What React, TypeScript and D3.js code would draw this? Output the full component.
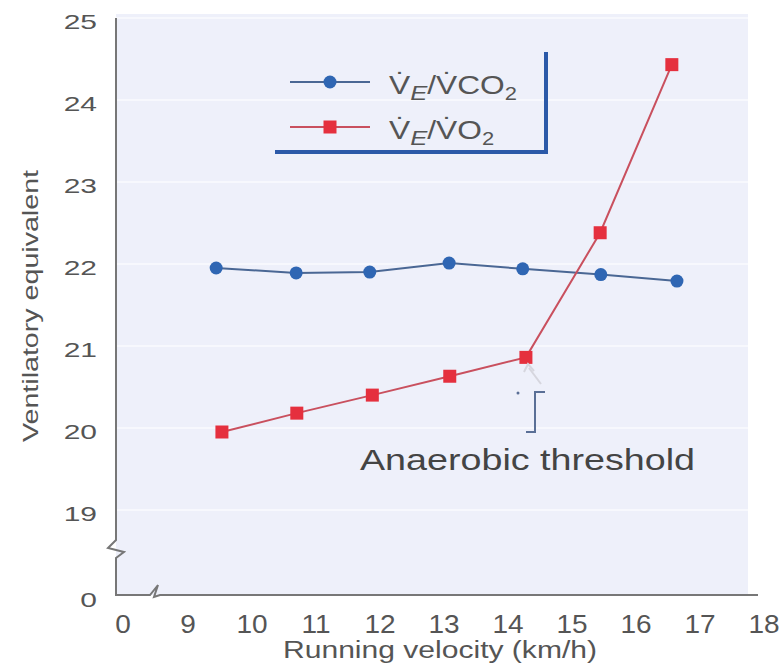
import React from "react";
import * as d3 from "d3";

const velocity = [9.44, 10.69, 11.84, 13.08, 14.23, 15.45, 16.64];
const velocityRed = [9.53, 10.7, 11.88, 13.09, 14.28, 15.44, 16.56];
const veVco2 = [22.0, 21.94, 21.95, 22.06, 21.99, 21.92, 21.84];
const veVo2 = [20.0, 20.23, 20.45, 20.68, 20.91, 22.43, 24.48];
const xTicks = [0, 9, 10, 11, 12, 13, 14, 15, 16, 17, 18];
const yTicks = [0, 19, 20, 21, 22, 23, 24, 25];

const W = 779;
const H = 670;

export default function App() {
  const x = d3.scaleLinear().domain([0, 9, 18]).range([123, 188, 764]);
  const y = d3.scaleLinear().domain([0, 19, 25]).range([600, 514, 22]);
  const axisX = 116;
  const axisY = 595;
  const textColor = "#555";
  const font = "'Liberation Sans', Arial, sans-serif";

  const lineBlue = d3
    .line<number>()
    .x((_, i) => x(velocity[i]))
    .y((d) => y(d));
  const lineRed = d3
    .line<number>()
    .x((_, i) => x(velocityRed[i]))
    .y((d) => y(d));

  const blueLine = "#4a6794";
  const blueMark = "#2f66b3";
  const redLine = "#c9505e";
  const redMark = "#e5303e";

  const legendLabel = (sub: string) => (
    <>
      {"V\u0307"}
      <tspan fontStyle="italic" fontSize={21} dy={6}>E</tspan>
      <tspan dy={-6}>{"/V\u0307" + sub}</tspan>
      <tspan fontSize={18} dy={6}>2</tspan>
    </>
  );

  return (
    <svg width={W} height={H} style={{ display: "block", position: "absolute", left: 0, top: 0 }} fontFamily={font}>
      <rect x={0} y={0} width={W} height={H} fill="#ffffff" />
      {/* plot background */}
      <rect x={axisX} y={14} width={632} height={axisY - 14} fill="#eef0fa" />
      {yTicks.slice(1).map((t) => (
        <line key={"g" + t} x1={axisX} x2={748} y1={y(t) - 4} y2={y(t) - 4} stroke="#f7f8fd" strokeWidth={2} />
      ))}

      {/* axes with breaks */}
      <path
        d={`M${axisX},18 V540 l-8,8 l16,4 l-8,6 V${axisY} H150 l8,-10 l-4,12 l6,-2 H758`}
        fill="none"
        stroke="#777"
        strokeWidth={2}
      />

      {/* y tick labels */}
      {yTicks.map((t) => (
        <text
          key={"y" + t}
          transform={`translate(97,${y(t)}) scale(1.5,1)`}
          dy="0.35em"
          textAnchor="end"
          fontSize={20}
          fill={textColor}
        >
          {t}
        </text>
      ))}
      {/* x tick labels */}
      {xTicks.map((t) => (
        <text
          key={"x" + t}
          transform={`translate(${x(t)},624) scale(1.12,1)`}
          dy="0.35em"
          textAnchor="middle"
          fontSize={25}
          fill={textColor}
        >
          {t}
        </text>
      ))}

      <text
        transform={`translate(38,306) rotate(-90)`}
        textAnchor="middle"
        fontSize={22}
        textLength={272}
        lengthAdjust="spacingAndGlyphs"
        fill={textColor}
      >
        Ventilatory equivalent
      </text>
      <text
        x={440}
        y={658}
        textAnchor="middle"
        fontSize={23}
        textLength={314}
        lengthAdjust="spacingAndGlyphs"
        fill={textColor}
      >
        Running velocity (km/h)
      </text>

      {/* series */}
      <path d={lineBlue(veVco2) || ""} fill="none" stroke={blueLine} strokeWidth={2} />
      <path d={lineRed(veVo2) || ""} fill="none" stroke={redLine} strokeWidth={2} />
      {veVco2.map((v, i) => (
        <circle key={"b" + i} cx={x(velocity[i])} cy={y(v)} r={6.5} fill={blueMark} />
      ))}
      {veVo2.map((v, i) => (
        <rect key={"r" + i} x={x(velocityRed[i]) - 6.5} y={y(v) - 6.5} width={13} height={13} fill={redMark} />
      ))}

      {/* legend */}
      <path d="M275,152 H546 V52" fill="none" stroke="#2b59a8" strokeWidth={4} />
      <line x1={290} x2={370} y1={82} y2={82} stroke={blueLine} strokeWidth={2} />
      <circle cx={330} cy={82} r={6.5} fill={blueMark} />
      <line x1={290} x2={370} y1={127} y2={127} stroke={redLine} strokeWidth={2} />
      <rect x={323.5} y={120.5} width={13} height={13} fill={redMark} />
      <text transform="translate(389,94) scale(1.22,1)" fontSize={26} fill={textColor}>
        {legendLabel("CO")}
      </text>
      <text transform="translate(389,139) scale(1.22,1)" fontSize={26} fill={textColor}>
        {legendLabel("O")}
      </text>

      {/* anaerobic threshold annotation */}
      <path d="M529,368 L541,384" stroke="#d6d6de" strokeWidth={2} fill="none" />
      <path d="M524,372 L528,364 L534,371" stroke="#d6d6de" strokeWidth={2} fill="none" />
      <path d="M545,392 H535 V432 H526" fill="none" stroke="#5a6f96" strokeWidth={2} />
      <circle cx={518} cy={393} r={1.5} fill="#5a6f96" />
      <text
        x={360}
        y={470}
        fontSize={29}
        textLength={335}
        lengthAdjust="spacingAndGlyphs"
        fill="#444"
      >
        Anaerobic threshold
      </text>
    </svg>
  );
}
